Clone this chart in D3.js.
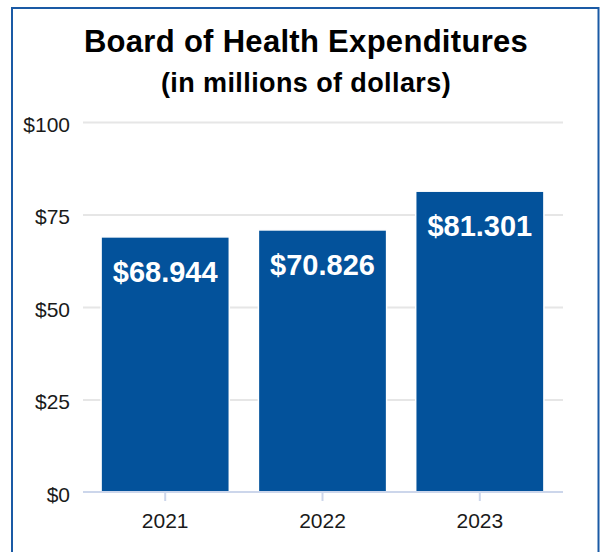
<!DOCTYPE html>
<html>
<head>
<meta charset="utf-8">
<script src="https://cdn.jsdelivr.net/npm/d3@7"></script>
<style>
  html, body { margin: 0; padding: 0; background: #ffffff; }
  svg { display: block; font-family: "Liberation Sans", Arial, Helvetica, sans-serif; }
</style>
</head>
<body>
<svg id="chart" width="600" height="552"></svg>
<script>
// Board of Health spending by year, in millions of dollars
const years = ["2021", "2022", "2023"];
const expenditures = [68.944, 70.826, 81.301];
const yTicks = [0, 25, 50, 75, 100];

const svg = d3.select("#chart");
const barColor = "#03529b";

// framed panel
svg.append("rect")
  .attr("x", 12).attr("y", 8)
  .attr("width", 586.5).attr("height", 600)
  .attr("fill", "#ffffff")
  .attr("stroke", "#1a5aa5")
  .attr("stroke-width", 2);

// titles
svg.append("text")
  .attr("x", 306).attr("y", 52)
  .attr("text-anchor", "middle")
  .attr("font-size", 31).attr("font-weight", "bold")
  .attr("letter-spacing", 0.3)
  .attr("fill", "#000")
  .text("Board of Health Expenditures");

svg.append("text")
  .attr("x", 306).attr("y", 92)
  .attr("text-anchor", "middle")
  .attr("font-size", 27).attr("font-weight", "bold")
  .attr("letter-spacing", 0.4)
  .attr("fill", "#000")
  .text("(in millions of dollars)");

// scales
const x = d3.scaleBand()
  .domain(years)
  .range([83, 562])
  .paddingInner(0.185)
  .paddingOuter(0.115);

const y = d3.scaleLinear()
  .domain([0, 100])
  .range([492, 122]);

// gridlines and y labels
const yAxis = svg.append("g")
  .attr("transform", "translate(83,0)")
  .call(d3.axisLeft(y).tickValues(yTicks).tickSize(-480).tickFormat(d => "$" + d).tickPadding(13));
yAxis.select(".domain").remove();
yAxis.selectAll(".tick line")
  .attr("stroke", "#e6e6e6").attr("stroke-width", 2);
yAxis.selectAll(".tick text")
  .attr("font-size", 21).attr("fill", "#1a1a1a")
  .attr("font-family", "Liberation Sans, Arial, sans-serif")
  .attr("dy", "0.45em");
yAxis.selectAll(".tick").filter(d => d === 0).select("line").remove();

// bars
const data = years.map((yr, i) => ({ year: yr, value: expenditures[i] }));

svg.append("g").selectAll("rect")
  .data(data)
  .join("rect")
  .attr("x", d => x(d.year))
  .attr("y", d => y(d.value))
  .attr("width", x.bandwidth())
  .attr("height", d => y(0) - y(d.value))
  .attr("fill", barColor)
  .attr("stroke", "#ffffff")
  .attr("stroke-width", 1.5);

// value labels inside the bars
svg.append("g").selectAll("text")
  .data(data)
  .join("text")
  .attr("x", d => x(d.year) + x.bandwidth() / 2)
  .attr("y", d => y(d.value) + 45)
  .attr("text-anchor", "middle")
  .attr("font-size", 29).attr("font-weight", "bold")
  .attr("fill", "#ffffff")
  .text(d => "$" + d.value.toFixed(3));

// x axis
const xAxis = svg.append("g")
  .attr("transform", "translate(0,492)")
  .call(d3.axisBottom(x).tickSize(9).tickPadding(12));
xAxis.select(".domain")
  .attr("d", "M83,0H563")
  .attr("stroke", "#ccd6eb").attr("stroke-width", 2);
xAxis.selectAll(".tick line")
  .attr("stroke", "#ccd6eb").attr("stroke-width", 2);
xAxis.selectAll(".tick text")
  .attr("font-size", 21).attr("fill", "#1a1a1a")
  .attr("font-family", "Liberation Sans, Arial, sans-serif");
</script>
</body>
</html>
